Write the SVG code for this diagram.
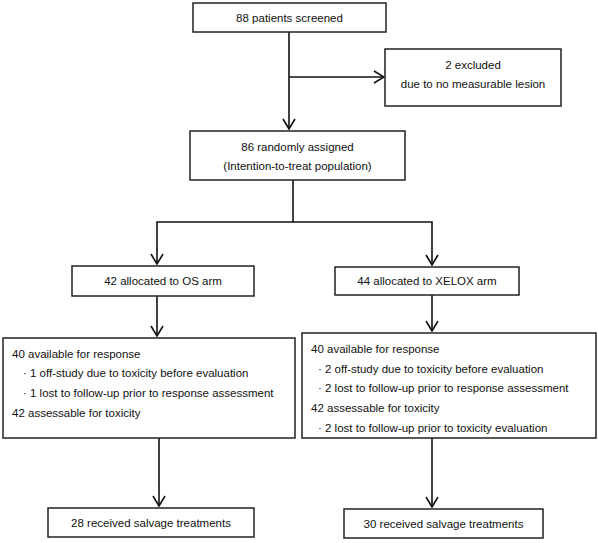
<svg xmlns="http://www.w3.org/2000/svg" width="598" height="543" viewBox="0 0 598 543">
<defs>
<style>
.box{fill:#fff;stroke:#222;stroke-width:1.5}
.c{fill:none;stroke:#111;stroke-width:1.6}
text{font-family:"Liberation Sans",Arial,sans-serif;font-size:11.5px;fill:#111}
.m{text-anchor:middle}
</style>
<marker id="ah" markerWidth="12" markerHeight="14" viewBox="0 0 12 14" refX="11" refY="7" orient="auto" markerUnits="userSpaceOnUse">
<polyline points="1,1 11,7 1,13" fill="none" stroke="#111" stroke-width="1.6"/>
</marker>
</defs>
<rect width="598" height="543" fill="#fff"/>
<g id="connectors">
<line class="c" x1="289" y1="32" x2="289" y2="129" marker-end="url(#ah)"/>
<line class="c" x1="289" y1="77" x2="384" y2="77" marker-end="url(#ah)"/>
<polyline class="c" points="293,180 293,222 157,222 157,264" marker-end="url(#ah)"/>
<polyline class="c" points="293,222 432,222 432,265" marker-end="url(#ah)"/>
<line class="c" x1="157" y1="296" x2="157" y2="336" marker-end="url(#ah)"/>
<line class="c" x1="432" y1="295" x2="432" y2="331" marker-end="url(#ah)"/>
<line class="c" x1="159" y1="438" x2="159" y2="506" marker-end="url(#ah)"/>
<line class="c" x1="432" y1="438" x2="432" y2="507" marker-end="url(#ah)"/>
</g>
<g id="screened">
<rect class="box" x="193" y="3" width="193" height="29"/>
<text class="m" x="289.5" y="22">88 patients screened</text>
</g>
<g id="excluded">
<rect class="box" x="385" y="49" width="176" height="57"/>
<text class="m" x="473" y="69">2 excluded</text>
<text class="m" x="473" y="88">due to no measurable lesion</text>
</g>
<g id="randomized">
<rect class="box" x="190" y="131" width="215" height="49"/>
<text class="m" x="297.5" y="151">86 randomly assigned</text>
<text class="m" x="297.5" y="170">(Intention-to-treat population)</text>
</g>
<g id="os">
<rect class="box" x="72" y="266" width="182" height="30"/>
<text class="m" x="163" y="285">42 allocated to OS arm</text>
</g>
<g id="xelox">
<rect class="box" x="335" y="267" width="184" height="28"/>
<text class="m" x="427" y="285">44 allocated to XELOX arm</text>
</g>
<g id="os-detail">
<rect class="box" x="3" y="338" width="292" height="100"/>
<text x="12" y="358">40 available for response</text>
<text x="23" y="377">·  1 off-study due to toxicity before evaluation</text>
<text x="23" y="397">·  1 lost to follow-up prior to response assessment</text>
<text x="12" y="417">42 assessable for toxicity</text>
</g>
<g id="xelox-detail">
<rect class="box" x="302" y="333" width="294" height="105"/>
<text x="311" y="353">40 available for response</text>
<text x="318" y="373">·  2 off-study due to toxicity before evaluation</text>
<text x="318" y="392">·  2 lost to follow-up prior to response assessment</text>
<text x="311" y="412">42 assessable for toxicity</text>
<text x="318" y="432">·  2 lost to follow-up prior to toxicity evaluation</text>
</g>
<g id="os-salvage">
<rect class="box" x="48" y="508" width="206" height="29"/>
<text class="m" x="151" y="527">28 received salvage treatments</text>
</g>
<g id="xelox-salvage">
<rect class="box" x="344" y="509" width="199" height="29"/>
<text class="m" x="443.5" y="528">30 received salvage treatments</text>
</g>
</svg>
